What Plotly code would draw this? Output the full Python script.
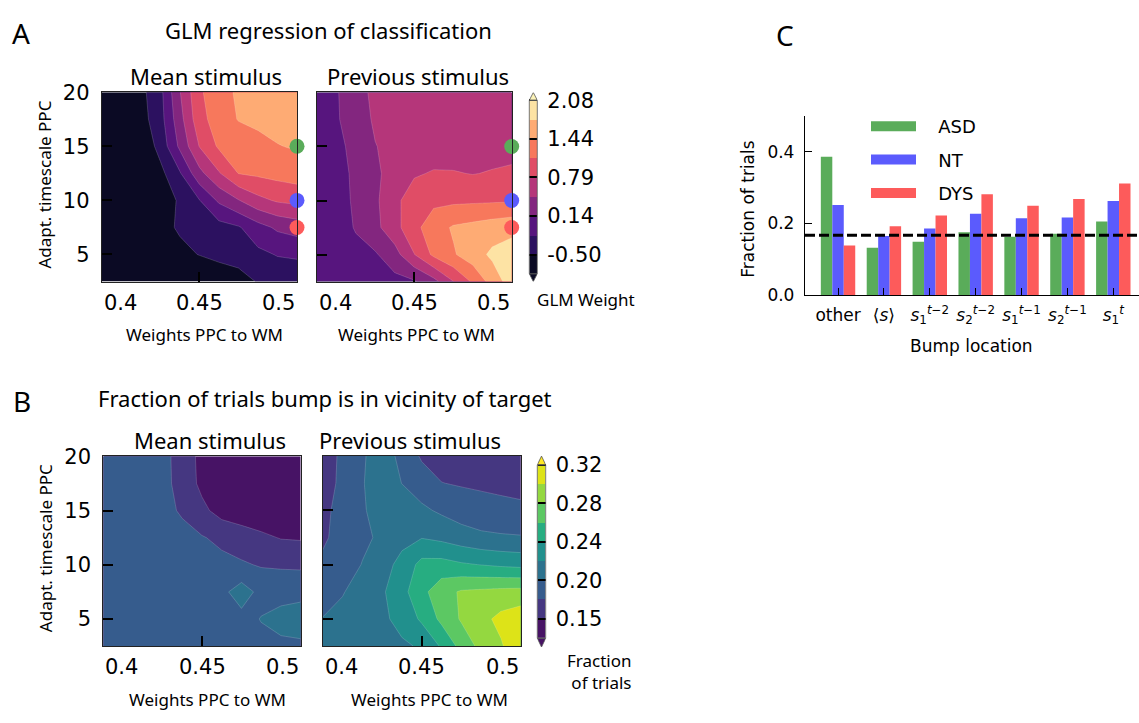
import plotly.graph_objects as go

W, H = 1139, 723

# ---------------- data ----------------
PPC_TO_WM = [0.40, 0.41, 0.42, 0.43, 0.44, 0.45, 0.46, 0.47, 0.48, 0.49, 0.50]
ADAPT_TAU = [20.0, 17.5, 15.0, 12.5, 10.0, 7.5, 5.0, 2.5]   # rows listed top -> bottom

# GLM weight, mean stimulus (rows follow ADAPT_TAU, columns follow PPC_TO_WM)
GLM_MEAN_STIM = [
    [-0.98, -0.82, -0.59, -0.27, 0.45, 1.06, 1.32, 1.48, 1.55, 1.61, 1.68],
    [-0.98, -0.85, -0.63, -0.30, 0.35, 1.00, 1.27, 1.45, 1.51, 1.56, 1.61],
    [-0.98, -0.89, -0.76, -0.39, 0.21, 0.80, 1.16, 1.25, 1.33, 1.42, 1.47],
    [-0.98, -0.92, -0.82, -0.59, -0.21, 0.37, 0.76, 1.12, 1.17, 1.22, 1.27],
    [-0.98, -0.95, -0.89, -0.71, -0.45, -0.19, 0.20, 0.45, 0.70, 0.83, 0.88],
    [-0.98, -0.95, -0.89, -0.60, -0.46, -0.39, -0.30, -0.21, 0.02, 0.20, 0.29],
    [-0.98, -0.95, -0.92, -0.79, -0.58, -0.49, -0.40, -0.32, -0.25, -0.16, -0.14],
    [-0.98, -0.98, -0.95, -0.92, -0.89, -0.82, -0.75, -0.68, -0.47, -0.40, -0.35],
]
# GLM weight, previous stimulus
GLM_PREV_STIM = [
    [-0.06, 0.11, 0.38, 0.52, 0.55, 0.56, 0.58, 0.58, 0.58, 0.58, 0.58],
    [-0.06, 0.10, 0.35, 0.50, 0.55, 0.60, 0.61, 0.63, 0.63, 0.63, 0.63],
    [-0.08, 0.05, 0.25, 0.46, 0.53, 0.58, 0.61, 0.64, 0.66, 0.68, 0.69],
    [-0.08, 0.02, 0.21, 0.41, 0.59, 0.75, 0.82, 0.81, 0.78, 0.81, 0.84],
    [-0.10, 0.00, 0.20, 0.41, 0.70, 0.98, 1.04, 1.05, 1.06, 1.07, 1.08],
    [-0.11, -0.02, 0.17, 0.38, 0.68, 1.02, 1.29, 1.47, 1.53, 1.60, 1.66],
    [-0.13, -0.05, 0.05, 0.11, 0.34, 0.78, 1.18, 1.40, 1.61, 1.82, 1.92],
    [-0.15, -0.11, -0.06, -0.02, 0.05, 0.11, 0.36, 0.78, 1.16, 1.57, 1.92],
]
# Fraction of trials bump near target, mean stimulus
FRAC_MEAN_STIM = [
    [0.186, 0.186, 0.185, 0.182, 0.167, 0.149, 0.143, 0.139, 0.136, 0.134, 0.134],
    [0.186, 0.186, 0.185, 0.182, 0.168, 0.150, 0.143, 0.139, 0.136, 0.134, 0.134],
    [0.187, 0.187, 0.186, 0.182, 0.173, 0.160, 0.147, 0.143, 0.141, 0.140, 0.139],
    [0.188, 0.187, 0.186, 0.185, 0.182, 0.177, 0.171, 0.165, 0.159, 0.154, 0.153],
    [0.188, 0.188, 0.187, 0.186, 0.185, 0.183, 0.181, 0.178, 0.174, 0.173, 0.172],
    [0.189, 0.189, 0.188, 0.188, 0.188, 0.189, 0.191, 0.206, 0.190, 0.189, 0.191],
    [0.190, 0.190, 0.190, 0.190, 0.190, 0.190, 0.191, 0.190, 0.197, 0.203, 0.205],
    [0.190, 0.190, 0.190, 0.190, 0.190, 0.190, 0.191, 0.191, 0.191, 0.192, 0.193],
]
# Fraction of trials bump near target, previous stimulus
FRAC_PREV_STIM = [
    [0.167, 0.179, 0.194, 0.206, 0.191, 0.173, 0.168, 0.167, 0.166, 0.165, 0.165],
    [0.167, 0.180, 0.195, 0.207, 0.196, 0.186, 0.176, 0.174, 0.173, 0.172, 0.172],
    [0.171, 0.182, 0.194, 0.205, 0.206, 0.200, 0.193, 0.186, 0.182, 0.180, 0.178],
    [0.172, 0.184, 0.192, 0.200, 0.211, 0.216, 0.212, 0.206, 0.201, 0.199, 0.198],
    [0.180, 0.186, 0.197, 0.209, 0.223, 0.244, 0.245, 0.240, 0.237, 0.234, 0.232],
    [0.186, 0.195, 0.205, 0.214, 0.231, 0.252, 0.271, 0.281, 0.283, 0.285, 0.286],
    [0.197, 0.202, 0.208, 0.213, 0.223, 0.241, 0.263, 0.281, 0.293, 0.305, 0.312],
    [0.199, 0.202, 0.206, 0.210, 0.214, 0.219, 0.240, 0.265, 0.285, 0.297, 0.316],
]

GLM_LEVELS = [-0.5, -0.1775, 0.145, 0.4675, 0.79, 1.1125, 1.435, 1.7575, 2.08]
GLM_TICKS = [-0.5, 0.145, 0.79, 1.435, 2.08]
GLM_TICKTEXT = ["-0.50", "0.14", "0.79", "1.44", "2.08"]
FRAC_LEVELS = [0.155, 0.175625, 0.19625, 0.216875, 0.2375, 0.258125, 0.27875, 0.299375, 0.32]
FRAC_TICKS = [0.155, 0.19625, 0.2375, 0.27875, 0.32]
FRAC_TICKTEXT = ["0.15", "0.20", "0.24", "0.28", "0.32"]

XTICKS = [0.4, 0.45, 0.5]
XTICKTEXT = ["0.4", "0.45", "0.5"]
YTICKS = [5, 10, 15, 20]

GROUP_NAMES = ["ASD", "NT", "DYS"]
GROUP_COLORS = ["#5aac5a", "#5b5bfd", "#fd5b5b"]
GROUP_PPC = [0.5, 0.5, 0.5]
GROUP_TAU = [15.0, 10.0, 7.5]

BUMP_LOCATIONS = [
    "other",
    "⟨<i>s</i>⟩",
    "<i>s</i><sub>1</sub><sup><i>t</i>−2</sup>",
    "<i>s</i><sub>2</sub><sup><i>t</i>−2</sup>",
    "<i>s</i><sub>1</sub><sup><i>t</i>−1</sup>",
    "<i>s</i><sub>2</sub><sup><i>t</i>−1</sup>",
    "<i>s</i><sub>1</sub><sup><i>t</i></sup>",
]
FRAC_ASD = [0.386, 0.132, 0.149, 0.175, 0.163, 0.171, 0.205]
FRAC_NT = [0.251, 0.165, 0.186, 0.227, 0.214, 0.216, 0.262]
FRAC_DYS = [0.138, 0.192, 0.222, 0.281, 0.249, 0.268, 0.311]
CHANCE_LEVEL = 0.167

GLM_BAND_COLORS = ["#0b0a24", "#2c1160", "#57157e", "#83267f", "#b5367a",
                   "#e04d66", "#f7785c", "#feab74", "#fde3a4", "#fcf3b8"]
FRAC_BAND_COLORS = ["#471365", "#453781", "#365c8d", "#2c728e", "#21908d",
                    "#27ad81", "#5cc863", "#94d840", "#dde318", "#fde725"]

SANS = "Noto Sans"
DJV = "DejaVu Sans"


def px_x(p):
    return p / W


def px_y(p):
    return 1 - p / H


def scale(colors):
    n = len(colors) - 1
    return [[i / n, c] for i, c in enumerate(colors)]


fig = go.Figure()


def add_contour(z, levels, colors, xa, ya):
    step = levels[1] - levels[0]
    fig.add_trace(go.Contour(
        x=PPC_TO_WM, y=ADAPT_TAU[::-1], z=z[::-1],
        xaxis=xa, yaxis=ya, autocontour=False,
        colorscale=scale(colors),
        contours=dict(start=levels[0], end=levels[-1], size=step,
                      coloring="fill", showlines=True),
        line=dict(color="rgba(255,255,255,0.28)", width=0.6, smoothing=0),
        showscale=False, hoverinfo="skip"))


def add_cbar(levels, colors, xa, ya):
    step = levels[1] - levels[0]
    centers = [levels[0] - step / 2] + [(a + b) / 2 for a, b in zip(levels[:-1], levels[1:])]
    fig.add_trace(go.Heatmap(
        x=[0], y=centers, z=[[c] for c in centers],
        zmin=levels[0] - step / 2, zmax=levels[-1] + step / 2,
        colorscale=scale(colors), showscale=False,
        xaxis=xa, yaxis=ya, hoverinfo="skip"))


add_contour(GLM_MEAN_STIM, GLM_LEVELS, GLM_BAND_COLORS, "x", "y")
add_contour(GLM_PREV_STIM, GLM_LEVELS, GLM_BAND_COLORS, "x2", "y2")
add_cbar(GLM_LEVELS, GLM_BAND_COLORS, "x3", "y3")
add_contour(FRAC_MEAN_STIM, FRAC_LEVELS, FRAC_BAND_COLORS, "x4", "y4")
add_contour(FRAC_PREV_STIM, FRAC_LEVELS, FRAC_BAND_COLORS, "x5", "y5")
add_cbar(FRAC_LEVELS, FRAC_BAND_COLORS, "x6", "y6")

for xa, ya in [("x", "y"), ("x2", "y2")]:
    fig.add_trace(go.Scatter(
        x=GROUP_PPC, y=GROUP_TAU, xaxis=xa, yaxis=ya, mode="markers",
        marker=dict(size=15, color=GROUP_COLORS, line=dict(width=0)),
        cliponaxis=False, showlegend=False, hoverinfo="skip"))

# ---- panel C bars ----
for name, vals, col in zip(GROUP_NAMES, [FRAC_ASD, FRAC_NT, FRAC_DYS], GROUP_COLORS):
    fig.add_trace(go.Bar(x=list(range(len(BUMP_LOCATIONS))), y=vals,
                         marker=dict(color=col, line=dict(width=0)),
                         xaxis="x7", yaxis="y7", showlegend=False, hoverinfo="skip", name=name))
for name, col in zip(GROUP_NAMES, GROUP_COLORS):
    fig.add_trace(go.Scatter(x=[None], y=[None], mode="lines",
                             name="\u00a0\u00a0\u00a0" + name, legendgroup=name,
                             line=dict(color=col, width=16), xaxis="x7", yaxis="y7"))

# ---------------- axes ----------------
frame = dict(showline=True, mirror=True, linecolor="#222", linewidth=1,
             ticks="inside", ticklen=10, tickwidth=2, tickcolor="black",
             showgrid=False, zeroline=False)

contour_axes = [
    ("xaxis", "yaxis", (101.7, 297), (82.7, 278), True),
    ("xaxis2", "yaxis2", (316.7, 511.7), (83, 278), False),
    ("xaxis4", "yaxis4", (103.3, 300.7), (458.3, 654), True),
    ("xaxis5", "yaxis5", (322.7, 520.7), (458, 654), False),
]
layout = {}
for xk, yk, (x0, x1), (y0, y1), lab in contour_axes:
    anchor_y = "y" + xk[5:]
    anchor_x = "x" + yk[5:]
    layout[xk] = dict(domain=[px_x(x0), px_x(x1)], range=[0.4, 0.5], anchor=anchor_y,
                      tickvals=XTICKS, showticklabels=False, **frame)
    layout[yk] = dict(domain=[px_y(y1), px_y(y0)], range=[2.5, 20], anchor=anchor_x,
                      tickvals=YTICKS, showticklabels=lab, ticklabelstandoff=7,
                      tickfont=dict(family=DJV, size=21, color="black"), **frame)

cbar_axes = [
    ("xaxis3", "yaxis3", (529.3, 537.3), (83, 278), GLM_LEVELS, GLM_TICKS, GLM_TICKTEXT,
     GLM_BAND_COLORS, 8 / 61.67),
    ("xaxis6", "yaxis6", (537.3, 545.7), (458, 655), FRAC_LEVELS, FRAC_TICKS, FRAC_TICKTEXT,
     FRAC_BAND_COLORS, 9 / 958.9),
]
shapes = []
for xk, yk, (x0, x1), (y0, y1), levels, tv, tt, colors, tri in cbar_axes:
    step = levels[1] - levels[0]
    ax_x = "x" + xk[5:]
    ax_y = "y" + yk[5:]
    layout[xk] = dict(domain=[px_x(x0), px_x(x1)], range=[-0.5, 0.5], anchor=ax_y,
                      visible=False, fixedrange=True)
    layout[yk] = dict(domain=[px_y(y1), px_y(y0)], range=[levels[0] - step - tri, levels[-1] + tri],
                      anchor=ax_x, side="right", tickvals=tv, ticktext=tt, ticks="inside",
                      ticklen=8, tickwidth=1.5, tickcolor="black", showgrid=False, zeroline=False,
                      showline=False, ticklabelstandoff=9,
                      tickfont=dict(family=DJV, size=21, color="black"))
    top = levels[-1]
    bot = levels[0] - step
    shapes.append(dict(type="path", xref=ax_x, yref=ax_y,
                       path=f"M -0.5,{top} L 0.5,{top} L 0,{top + tri} Z",
                       fillcolor=colors[-1], line=dict(color="#555", width=0.8)))
    shapes.append(dict(type="path", xref=ax_x, yref=ax_y,
                       path=f"M -0.5,{bot} L 0.5,{bot} L 0,{bot - tri} Z",
                       fillcolor=colors[0], line=dict(color="#555", width=0.8)))
    shapes.append(dict(type="rect", xref=ax_x + " domain", yref=ax_y, x0=0, x1=1, y0=bot, y1=top,
                       line=dict(color="#555", width=0.8), fillcolor="rgba(0,0,0,0)"))

layout["xaxis7"] = dict(domain=[px_x(805), 1.0], range=[-0.72, 6.56], anchor="y7",
                        tickvals=list(range(len(BUMP_LOCATIONS))), ticktext=BUMP_LOCATIONS,
                        showline=True, linecolor="black", linewidth=1.3, ticks="inside",
                        ticklen=7, tickwidth=1.3, tickcolor="black", showgrid=False, zeroline=False,
                        ticklabelstandoff=4, tickfont=dict(family=DJV, size=17, color="black"))
layout["yaxis7"] = dict(domain=[px_y(292), px_y(107)], range=[0, 0.5], anchor="x7",
                        tickvals=[0, 0.2, 0.4], ticktext=["0.0", "0.2", "0.4"],
                        showline=True, linecolor="black", linewidth=1.3, ticks="inside",
                        ticklen=7, tickwidth=1.3, tickcolor="black", showgrid=False, zeroline=False,
                        ticklabelstandoff=6, tickfont=dict(family=DJV, size=17, color="black"))

shapes.append(dict(type="line", xref="x7 domain", yref="y7", x0=0, x1=1,
                   y0=CHANCE_LEVEL, y1=CHANCE_LEVEL,
                   line=dict(color="black", width=3, dash="10px,4px")))

# ---------------- annotations ----------------
ann = []


def text(t, x, y, size, family=SANS, xanchor="center", yanchor="middle", angle=0, align="center"):
    ann.append(dict(text=t, x=px_x(x), y=px_y(y), xref="paper", yref="paper", showarrow=False,
                    font=dict(family=family, size=size, color="black"), xanchor=xanchor,
                    yanchor=yanchor, textangle=angle, align=align))


# x tick labels of the contour panels (edge labels kept inside the axes span)
for xk, yk, _, _, _ in contour_axes:
    ax_x = "x" + xk[5:]
    ax_y = "y" + yk[5:]
    for v, t, anc in zip(XTICKS, XTICKTEXT, ["left", "center", "right"]):
        ann.append(dict(text=t, x=v, y=0, xref=ax_x, yref=ax_y + " domain", showarrow=False,
                        xanchor=anc, yanchor="middle", yshift=-21,
                        font=dict(family=DJV, size=21, color="black")))

text("A", 21, 22, 28)
text("B", 22, 401, 28)
text("C", 785, 24, 28)
text("GLM regression of classification", 328, 19, 22)
text("Mean stimulus", 206, 66, 22)
text("Previous stimulus", 418, 66, 22)
text("Fraction of trials bump is in vicinity of target", 325, 398, 22)
text("Mean stimulus", 210, 441, 22)
text("Previous stimulus", 410, 441, 22)
text("Adapt. timescale PPC", 45, 178, 17, angle=-90)
text("Adapt. timescale PPC", 45, 553, 17, angle=-90)
text("Weights PPC to WM", 204, 333, 17)
text("Weights PPC to WM", 416, 333, 17)
text("Weights PPC to WM", 207, 709, 17)
text("Weights PPC to WM", 429, 709, 17)
text("GLM Weight", 586, 297, 17)
text("Fraction<br>of trials", 634, 680, 17, xanchor="right", align="right")
text("Fraction of trials", 748, 203, 17, family=DJV, angle=-90)
text("Bump location", 971, 344, 17, family=DJV)

fig.update_layout(
    width=W, height=H, margin=dict(l=0, r=0, t=0, b=0),
    paper_bgcolor="white", plot_bgcolor="white",
    barmode="group", bargap=0.25, bargroupgap=0,
    showlegend=True,
    legend=dict(x=px_x(866), y=px_y(99), xanchor="left", yanchor="top",
                font=dict(family=DJV, size=18, color="black"), bgcolor="rgba(0,0,0,0)",
                tracegroupgap=7, itemwidth=45),
    shapes=shapes, annotations=ann,
    **layout,
)

fig.write_html("out.html",
               post_script="document.body.style.margin='0';document.body.style.overflow='hidden';")
